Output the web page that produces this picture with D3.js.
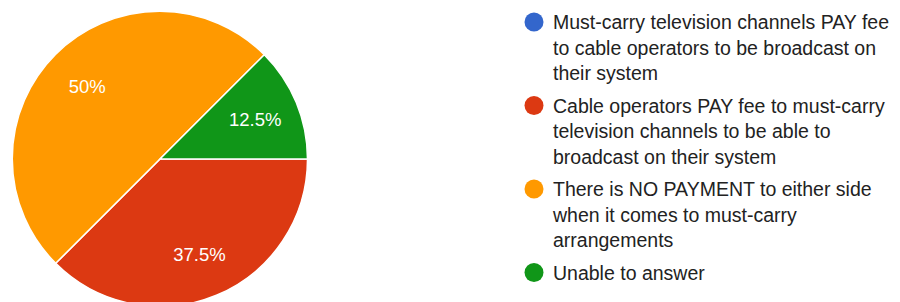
<!DOCTYPE html>
<html>
<head>
<meta charset="utf-8">
<script src="https://cdn.jsdelivr.net/npm/d3@7"></script>
<style>
  body { margin: 0; background: #fff; }
  svg { display: block; font-family: "Liberation Sans", Arial, sans-serif; }
</style>
</head>
<body>
<svg></svg>
<script>
let categories = [
  ["Must-carry television channels PAY fee", "to cable operators to be broadcast on", "their system"],
  ["Cable operators PAY fee to must-carry", "television channels to be able to", "broadcast on their system"],
  ["There is NO PAYMENT to either side", "when it comes to must-carry", "arrangements"],
  ["Unable to answer"]
];
let percents = [0, 37.5, 50, 12.5];
let percentLabels = ["0%", "37.5%", "50%", "12.5%"];
let colors = ["#3366cc", "#dc3912", "#ff9900", "#109618"];

let width = 900;
let height = 302;
let cx = 160;
let cy = 159;
let radius = 147.5;
let labelRadius = 103;

let legendX = 534;
let legendTextX = 553;
let firstBaseline = 29.3;
let lineStep = 25.5;
let itemGap = 32.5;

//svg
const svg = d3.select("svg")
  .attr("width", width)
  .attr("height", height);

//pie
const pie = d3.pie()
  .sort(null)
  .value((d) => d)
  .startAngle(Math.PI / 2)
  .endAngle(Math.PI / 2 + Math.PI * 2);

const arc = d3.arc()
  .innerRadius(0)
  .outerRadius(radius);

const labelArc = d3.arc()
  .innerRadius(labelRadius)
  .outerRadius(labelRadius);

const arcs = pie(percents);

const g = svg.append("g")
  .attr("transform", `translate(${cx}, ${cy})`);

g.selectAll("path")
  .data(arcs)
  .enter()
  .append("path")
  .attr("d", arc)
  .attr("fill", (d, i) => colors[i])
  .attr("stroke", "#fff")
  .attr("stroke-width", 1.5);

//slice labels, skip empty slices
g.selectAll("text")
  .data(arcs.filter((d) => d.value > 0))
  .enter()
  .append("text")
  .attr("transform", (d) => `translate(${labelArc.centroid(d)})`)
  .attr("text-anchor", "middle")
  .attr("dy", "0.35em")
  .attr("fill", "#fff")
  .attr("font-size", 18.5)
  .text((d) => percentLabels[d.index]);

//legend
let baseline = firstBaseline;
categories.forEach((lines, i) => {
  svg.append("circle")
    .attr("cx", legendX)
    .attr("cy", baseline - 7.3)
    .attr("r", 9.5)
    .attr("fill", colors[i]);
  const t = svg.append("text")
    .attr("fill", "#222")
    .attr("font-size", 19.5);
  lines.forEach((line, j) => {
    t.append("tspan")
      .attr("x", legendTextX)
      .attr("y", baseline + j * lineStep)
      .text(line);
  });
  baseline += (lines.length - 1) * lineStep + itemGap;
});
</script>
</body>
</html>
